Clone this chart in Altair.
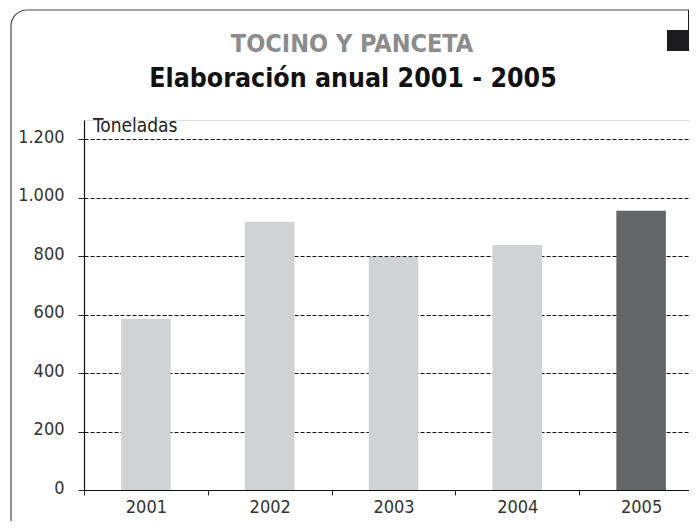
import altair as alt
import pandas as pd

years = ["2001", "2002", "2003", "2004", "2005"]
toneladas = [585, 917, 797, 838, 955]
y_ticks = [0, 200, 400, 600, 800, 1000, 1200]
title_1 = "TOCINO Y PANCETA"
title_2 = "Elaboración anual 2001 - 2005"
unit_label = "Toneladas"
highlight_year = "2005"

FONT = "DejaVu Sans Condensed, Liberation Sans Narrow, Liberation Sans"

df = pd.DataFrame({"year": years, "value": toneladas})

base = alt.Chart(df)
one = pd.DataFrame({"k": [0]})

frame = alt.Chart(one).mark_rect(
    fill="white", fillOpacity=0, stroke="#4a4a4a", strokeWidth=1.2, cornerRadius=16
).encode(
    x=alt.value(-73), x2=alt.value(660), y=alt.value(-110), y2=alt.value(440)
)

sq_big = alt.Chart(one).mark_rect(color="#1b1b1d").encode(
    x=alt.value(583), x2=alt.value(605), y=alt.value(-90), y2=alt.value(-69)
)
sq_small = alt.Chart(one).mark_rect(color="#1b1b1d").encode(
    x=alt.value(604), x2=alt.value(620), y=alt.value(-110), y2=alt.value(-89)
)

bars = base.mark_bar(width=alt.RelativeBandSize(0.4)).encode(
    x=alt.X(
        "year:N",
        sort=years,
        scale=alt.Scale(paddingInner=0, paddingOuter=0),
        axis=alt.Axis(
            title=None,
            tickBand="extent",
            tickSize=5,
            tickColor="#222222",
            domainColor="#111111",
            domainWidth=1.2,
            labelAngle=0,
            labelFont=FONT,
            labelFontSize=18,
            labelColor="#333333",
            labelPadding=3,
            grid=False,
        ),
    ),
    y=alt.Y(
        "value:Q",
        scale=alt.Scale(domain=[0, 1265], nice=False, zero=True),
        axis=alt.Axis(
            title=None,
            values=y_ticks,
            labelExpr="replace(format(datum.value, ','), ',', '.')",
            tickSize=6,
            tickColor="#222222",
            domainColor="#111111",
            domainWidth=1.2,
            labelFont=FONT,
            labelFontSize=18,
            labelColor="#333333",
            labelPadding=14,
            labelOffset=-2,
            grid=True,
            gridColor="#111111",
            gridDash=[4, 2],
            gridWidth=1,
        ),
    ),
    color=alt.condition(
        alt.datum.year == highlight_year, alt.value("#646567"), alt.value("#d1d2d4")
    ),
)

t1 = alt.Chart(pd.DataFrame({"t": [title_1]})).mark_text(
    font=FONT, fontSize=25, fontWeight="bold", color="#8c8c8c", align="center", baseline="alphabetic"
).encode(text="t:N", x=alt.value(268), y=alt.value(-68))

t2 = alt.Chart(pd.DataFrame({"t": [title_2]})).mark_text(
    font=FONT, fontSize=26.5, fontWeight="bold", color="#111111", align="center", baseline="alphabetic"
).encode(text="t:N", x=alt.value(269), y=alt.value(-33))

t3 = alt.Chart(pd.DataFrame({"t": [unit_label]})).mark_text(
    font=FONT, fontSize=19, color="#222222", align="left", baseline="alphabetic"
).encode(text="t:N", x=alt.value(9), y=alt.value(12))

chart = alt.layer(frame, bars, sq_big, sq_small, t1, t2, t3).properties(
    width=619,
    height=370,
    autosize=alt.AutoSizeParams(type="none"),
    padding={"left": 76, "top": 112, "right": -14, "bottom": 31},
).configure_view(stroke=None).configure(background="white")

chart.save("out.html", embed_options={"renderer": "svg", "actions": False})
